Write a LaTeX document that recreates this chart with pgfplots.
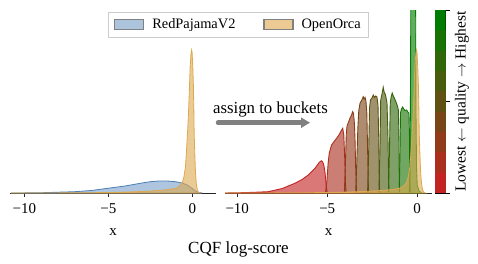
\documentclass[border=0pt]{standalone}
\usepackage{pgfplots}
\pgfplotsset{compat=1.18}
\usepackage{fontspec}
\setmainfont{Liberation Serif}
\usetikzlibrary{arrows.meta}

\definecolor{rp}{RGB}{74,126,181}
\definecolor{oo}{RGB}{222,168,78}
\definecolor{q0}{RGB}{195,35,35}
\definecolor{q1}{RGB}{171,46,31}
\definecolor{q2}{RGB}{146,58,26}
\definecolor{q3}{RGB}{122,69,22}
\definecolor{q4}{RGB}{98,80,18}
\definecolor{q5}{RGB}{73,91,13}
\definecolor{q6}{RGB}{49,103,9}
\definecolor{q7}{RGB}{24,114,4}
\definecolor{q8}{RGB}{0,125,0}

\pgfplotstableread{
x y
-10.8 0
-8 0.1
-6 0.3
-5 0.5
-4 0.9
-3 1.5
-2 2.5
-1.5 3.3
-1.2 4
-0.96 4.8
-0.8 6.5
-0.68 8.5
-0.59 11
-0.5 16
-0.41 26
-0.36 38
-0.31 53
-0.26 68
-0.22 83
-0.17 105
-0.13 126
-0.08 139
-0.04 143
-0.01 140
0.03 125
0.06 110
0.09 85
0.11 60
0.15 38
0.19 20
0.24 9
0.3 3
0.36 0.8
0.45 0
}\orca

\pgfplotstableread{
x y
-10.8 0
-10 0.1
-9 0.3
-8.5 0.5
-8 0.8
-7 1.3
-6 2.5
-5 4.8
-4.5 5.9
-4 7
-3.5 8.5
-3 10
-2.5 11.3
-2 12
-1.5 12
-1 11.3
-0.6 10
-0.3 8
0 4.5
0.2 1.8
0.4 0.4
0.6 0
}\redpj

\pgfplotsset{
  base/.style={scale only axis, height=183pt, ymin=0, ymax=183,
    anchor=south west,
    axis y line=none, axis x line*=bottom,
    axis line style={-, black!85, line width=0.9pt},
    xtick={-10,-5,0}, xticklabels={−10,−5,0},
    tick align=outside, major tick length=4pt,
    tick style={black!85, line width=0.8pt},
    ticklabel style={font=\fontsize{15}{18}\selectfont},
    xticklabel style={yshift=-3pt},
    xlabel={x}, xlabel style={font=\fontsize{15}{18}\selectfont, yshift=-8pt},
  },
  bk/.style={draw=#1, line width=0.9pt, fill=#1, fill opacity=0.62},
}

\begin{document}
\begin{tikzpicture}
\path[use as bounding box] (0pt,0pt) rectangle (478pt,-263pt);

\begin{axis}[base, at={(10pt,-193pt)}, width=206pt, xmin=-10.85, xmax=1.41,
  legend columns=2,
  legend style={at={(1.109,0.989)}, anchor=north, draw=black!20, line width=0.8pt,
    font=\fontsize{14.4}{17}\selectfont, inner xsep=6pt, inner ysep=4.5pt,
    /tikz/every odd column/.style={column sep=6pt},
    /tikz/every even column/.style={column sep=26pt}},
  legend image code/.code={\draw[#1, draw=black!50, line width=1.1pt] (0pt,-5pt) rectangle (29pt,5pt);},
]
\addplot[draw=rp, line width=0.8pt, fill=rp, fill opacity=0.45] table {\redpj} \closedcycle;
\addlegendentry{RedPajamaV2}
\addplot[draw=oo, line width=0.8pt, fill=oo, fill opacity=0.6] table {\orca} \closedcycle;
\addlegendentry{OpenOrca}
\end{axis}

\begin{axis}[base, at={(225pt,-193pt)}, width=207pt, xmin=-10.68, xmax=0.82]
\addplot[bk=q0] coordinates {(-10.7,0) (-10,0.2) (-9.2,0.6) (-8.28,1.3) (-7.5,4.5) (-6.8,9.7) (-6.4,13.5) (-6.05,18) (-5.68,24.7) (-5.45,30.5) (-5.33,32.3) (-5.25,31) (-5.18,27) (-5.12,20) (-5.06,8) (-5.0,0)} \closedcycle;
\addplot[bk=q1] coordinates {(-5.1,0) (-5.02,12) (-4.95,30) (-4.89,39.7) (-4.76,48) (-4.6,52) (-4.48,54.7) (-4.35,58) (-4.2,63) (-4.14,64.7) (-4.08,58) (-4.03,35) (-3.98,8) (-3.95,0)} \closedcycle;
\addplot[bk=q2] coordinates {(-4.05,0) (-3.99,30) (-3.94,60) (-3.9,67) (-3.74,74.7) (-3.65,78) (-3.59,81.3) (-3.55,80) (-3.5,72) (-3.46,56) (-3.42,25) (-3.37,0)} \closedcycle;
\addplot[bk=q3] coordinates {(-3.42,0) (-3.36,30) (-3.3,65) (-3.25,82) (-3.18,89.7) (-3.08,93) (-3.0,96.3) (-2.95,94) (-2.9,95.5) (-2.85,92) (-2.8,80) (-2.76,45) (-2.72,10) (-2.7,0)} \closedcycle;
\addplot[bk=q4] coordinates {(-2.76,0) (-2.7,40) (-2.65,85) (-2.6,93) (-2.52,95) (-2.44,98) (-2.38,95.5) (-2.3,97) (-2.24,96) (-2.18,88) (-2.14,55) (-2.11,15) (-2.09,0)} \closedcycle;
\addplot[bk=q5] coordinates {(-2.13,0) (-2.07,45) (-2.03,93) (-1.97,98) (-1.89,105.7) (-1.84,101) (-1.78,99) (-1.74,96) (-1.68,90) (-1.63,60) (-1.59,15) (-1.57,0)} \closedcycle;
\addplot[bk=q6] coordinates {(-1.6,0) (-1.54,45) (-1.5,90) (-1.45,96) (-1.39,100) (-1.33,97) (-1.25,94) (-1.18,91) (-1.1,87) (-1.05,83) (-1.02,60) (-1.0,15) (-0.98,0)} \closedcycle;
\addplot[bk=q7] coordinates {(-1.0,0) (-0.96,40) (-0.93,80) (-0.88,84) (-0.81,86) (-0.75,84) (-0.68,82.5) (-0.59,83) (-0.52,81) (-0.46,79.7) (-0.43,55) (-0.41,15) (-0.39,0)} \closedcycle;
\addplot[bk=q8] coordinates {(-0.44,0) (-0.4,30) (-0.37,120) (-0.34,300) (-0.11,300) (-0.09,200) (-0.07,80) (-0.04,25) (0.0,8) (0.1,2) (0.25,0)} \closedcycle;
\addplot[draw=oo, line width=0.8pt, fill=oo, fill opacity=0.6] table {\orca} \closedcycle;
\end{axis}

\begin{axis}[at={(435pt,-193pt)}, anchor=south west, scale only axis,
  width=10.7pt, height=183pt, xmin=0, xmax=1, ymin=0, ymax=9,
  xtick=\empty, ytick={0,4.5,9}, yticklabels={,,}, ytick pos=right,
  tick align=outside, major tick length=4pt,
  tick style={black, line width=0.8pt},
  axis line style={black, line width=0.7pt}]
\addplot[fill=q8, draw=none] coordinates {(0,9) (1,9)} \closedcycle;
\addplot[fill=q7, draw=none] coordinates {(0,8) (1,8)} \closedcycle;
\addplot[fill=q6, draw=none] coordinates {(0,7) (1,7)} \closedcycle;
\addplot[fill=q5, draw=none] coordinates {(0,6) (1,6)} \closedcycle;
\addplot[fill=q4, draw=none] coordinates {(0,5) (1,5)} \closedcycle;
\addplot[fill=q3, draw=none] coordinates {(0,4) (1,4)} \closedcycle;
\addplot[fill=q2, draw=none] coordinates {(0,3) (1,3)} \closedcycle;
\addplot[fill=q1, draw=none] coordinates {(0,2) (1,2)} \closedcycle;
\addplot[fill=q0, draw=none] coordinates {(0,1) (1,1)} \closedcycle;
\end{axis}

\node[rotate=90, font=\fontsize{15.4}{18}\selectfont, inner sep=0pt] at (462pt,-101.5pt) {Lowest $\leftarrow$ quality $\rightarrow$ Highest};

\node[anchor=base, font=\fontsize{16.8}{20}\selectfont, inner sep=0pt] at (270.5pt,-113pt) {assign to buckets};
\draw[line width=4.5pt, color={rgb,255:red,128;green,128;blue,128}, line cap=round, -{Triangle[length=9pt,width=10pt]}] (218pt,-122.7pt) -- (310pt,-122.7pt);

\node[anchor=base, font=\fontsize{17}{20}\selectfont, inner sep=0pt] at (238.5pt,-253pt) {CQF log-score};
\end{tikzpicture}
\end{document}
